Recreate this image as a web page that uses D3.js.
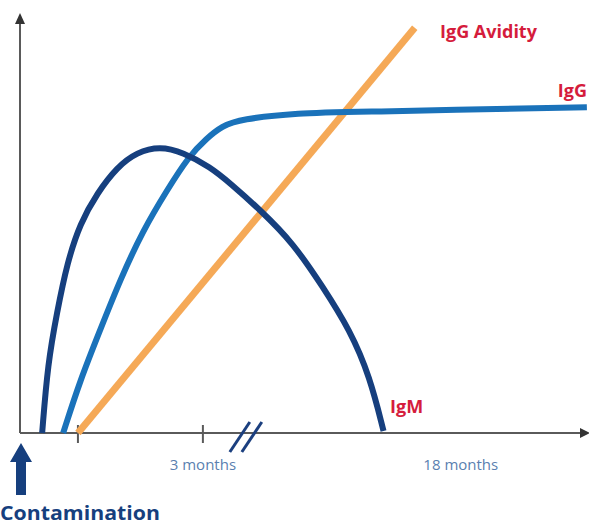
<!DOCTYPE html>
<html>
<head>
<meta charset="utf-8">
<script src="https://cdn.jsdelivr.net/npm/d3@7"></script>
<style>
  html, body { margin: 0; padding: 0; background: #fff; }
  svg { display: block; }
  .lbl { font-family: "Open Sans", "DejaVu Sans Condensed", sans-serif; }
</style>
</head>
<body>
<svg id="chart" width="589" height="526"></svg>
<script>
// Curve values in abstract units (x: time 0-100, y: antibody level 0-100)
const igmX = [3.9, 4.9, 6.5, 8.3, 10.6, 13.6, 17.1, 20.6, 24.6, 28.7, 33.5, 37.0, 42.3, 48.1, 53.3, 58.1, 61.6, 64.0];
const igmY = [0, 16.9, 29.1, 41.2, 50.8, 58.1, 64.4, 68.0, 69.4, 68.0, 64.4, 60.5, 54.0, 46.0, 35.4, 24.9, 13.6, 0.5];

const iggX = [7.6, 10.6, 14.1, 17.6, 21.7, 25.9, 29.6, 32.9, 35.6, 38.7, 49.3, 58.1, 99.8];
const iggY = [0, 12.8, 24.9, 37.0, 49.2, 58.8, 66.8, 71.4, 74.3, 76.0, 77.5, 77.7, 78.9];

const avidityX = [10.2, 69.5];
const avidityY = [0, 98.1];

// x-axis tick marks and their labels
const tickValues = [10.2, 32.2];
const tickLabels = ["3 months", "18 months"];
const tickLabelX = [32.2, 77.6];
const breakAt = 38.7;

const svg = d3.select("#chart");

const xScale = d3.scaleLinear().domain([0, 100]).range([20, 588]);
const yScale = d3.scaleLinear().domain([0, 100]).range([433, 20]);

const zip = (xs, ys) => xs.map((x, i) => ({ x, y: ys[i] }));

// B-spline smooths out small reading errors in the points
const line = d3.line()
    .x(d => xScale(d.x))
    .y(d => yScale(d.y))
    .curve(d3.curveBasis);

// Axes
const axisColor = "#5a5a5a";
svg.append("line")
    .attr("x1", xScale(0)).attr("y1", yScale(0))
    .attr("x2", xScale(0)).attr("y2", 22)
    .attr("stroke", axisColor).attr("stroke-width", 2);
svg.append("path")
    .attr("d", `M${xScale(0)},13 L${xScale(0) - 5},24 L${xScale(0) + 5},24 Z`)
    .attr("fill", "#333");

svg.append("line")
    .attr("x1", xScale(0)).attr("y1", yScale(0))
    .attr("x2", 584).attr("y2", yScale(0))
    .attr("stroke", axisColor).attr("stroke-width", 2);
svg.append("path")
    .attr("d", `M590,${yScale(0)} L580,${yScale(0) - 5} L580,${yScale(0) + 5} Z`)
    .attr("fill", "#333");

// tick marks
svg.selectAll(".tick")
    .data(tickValues)
    .join("line")
    .attr("class", "tick")
    .attr("x1", d => xScale(d)).attr("x2", d => xScale(d))
    .attr("y1", yScale(0) - 8).attr("y2", yScale(0) + 10)
    .attr("stroke", axisColor).attr("stroke-width", 2);

// axis break marks
const breakX = xScale(breakAt);
[0, 12].forEach(dx => {
    svg.append("line")
        .attr("x1", breakX - 10 + dx).attr("y1", 452)
        .attr("x2", breakX + 10 + dx).attr("y2", 422)
        .attr("stroke", "#1b3f7f").attr("stroke-width", 3);
});

// tick labels
svg.selectAll(".tlabel")
    .data(tickLabels)
    .join("text")
    .attr("class", "tlabel lbl")
    .attr("x", (d, i) => xScale(tickLabelX[i]))
    .attr("y", 470)
    .attr("text-anchor", "middle")
    .attr("font-size", 15)
    .attr("fill", "#5a7fb0")
    .text(d => d);

// Curves
svg.append("path")
    .datum(zip(avidityX, avidityY))
    .attr("fill", "none")
    .attr("stroke", "#f5a957")
    .attr("stroke-width", 7)
    .attr("d", d3.line().x(d => xScale(d.x)).y(d => yScale(d.y)));

svg.append("path")
    .datum(zip(iggX, iggY))
    .attr("fill", "none")
    .attr("stroke", "#1a72ba")
    .attr("stroke-width", 6)
    .attr("d", line);

svg.append("path")
    .datum(zip(igmX, igmY))
    .attr("fill", "none")
    .attr("stroke", "#163f7e")
    .attr("stroke-width", 6)
    .attr("d", line);

// Series labels
const red = "#d51c3c";
svg.append("text").attr("class", "lbl")
    .attr("x", 440).attr("y", 38)
    .attr("font-size", 18).attr("font-weight", "bold").attr("fill", red)
    .text("IgG Avidity");
svg.append("text").attr("class", "lbl")
    .attr("x", 587).attr("y", 97).attr("text-anchor", "end")
    .attr("font-size", 18).attr("font-weight", "bold").attr("fill", red)
    .text("IgG");
svg.append("text").attr("class", "lbl")
    .attr("x", 390).attr("y", 413)
    .attr("font-size", 18).attr("font-weight", "bold").attr("fill", red)
    .text("IgM");

// Contamination arrow
const ax = xScale(0) + 1;
svg.append("path")
    .attr("d", `M${ax},443 L${ax - 11},462 L${ax - 5},462 L${ax - 5},495 L${ax + 5},495 L${ax + 5},462 L${ax + 11},462 Z`)
    .attr("fill", "#163f7e");
svg.append("text").attr("class", "lbl")
    .attr("x", 0).attr("y", 520)
    .attr("font-size", 19).attr("font-weight", "bold").attr("fill", "#163f7e")
    .attr("textLength", 160).attr("lengthAdjust", "spacingAndGlyphs")
    .text("Contamination");
</script>
</body>
</html>
